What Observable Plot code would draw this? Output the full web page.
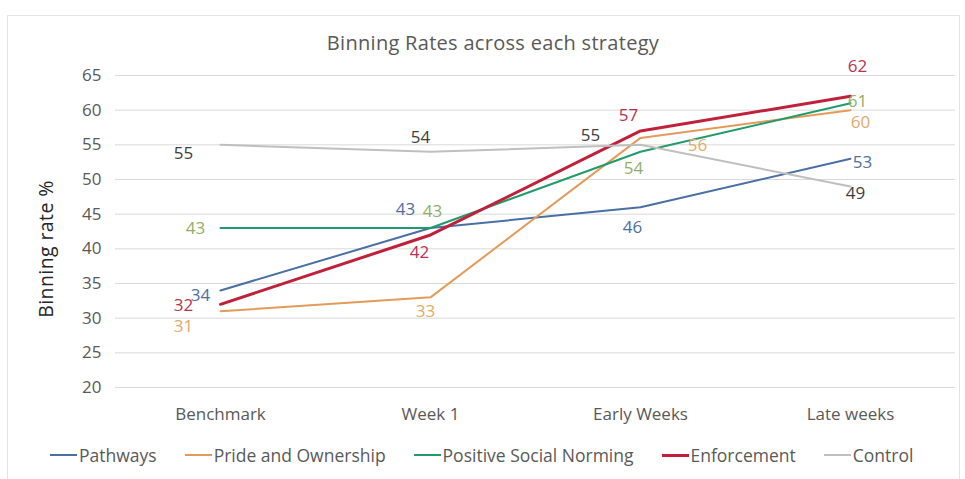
<!DOCTYPE html>
<html>
<head>
<meta charset="utf-8">
<script src="https://cdn.jsdelivr.net/npm/d3@7"></script>
<script src="https://cdn.jsdelivr.net/npm/@observablehq/plot@0.6"></script>
<style>
  body { margin: 0; background: #fff; font-family: "Open Sans", sans-serif; }
  #frame { position: absolute; left: 7px; top: 15px; width: 953px; height: 480px; border: 1px solid #e3e3e3; box-sizing: border-box; }
  #title { position: absolute; left: 0; width: 986px; top: 29px; text-align: center; font-size: 20px; letter-spacing: 0.3px; color: #595959; }
  #chart { position: absolute; left: 0; top: 0; }
  #legend { position: absolute; left: 50px; top: 443px; display: flex; gap: 28px; font-size: 17.5px; color: #595959; white-space: nowrap; }
  .item { display: flex; align-items: center; }
  .sw { width: 27px; margin-right: 2px; }
</style>
</head>
<body>
<div id="frame"></div>
<div id="title">Binning Rates across each strategy</div>
<div id="chart"></div>
<div id="legend"></div>
<script>
const categories = ["Benchmark", "Week 1", "Early Weeks", "Late weeks"];
const seriesNames = ["Pathways", "Pride and Ownership", "Positive Social Norming", "Enforcement", "Control"];
const pathways = [34, 43, 46, 53];
const prideOwnership = [31, 33, 56, 60];
const socialNorming = [43, 43, 54, 61];
const enforcement = [32, 42, 57, 62];
const control = [55, 54, 55, 49];
const yTicks = [20, 25, 30, 35, 40, 45, 50, 55, 60, 65];

// styling
const lineColors = ["#4a6fa5", "#e49b5a", "#1f9c6a", "#c0203a", "#bfbfbf"];
const labelColors = ["#4f6fa0", "#e2aa6c", "#8fae68", "#b8324f", "#404040"];
const lineWidths = [2, 2, 2, 3, 2];
// label placement (pixel offset of label centre from its point)
const labelOffsets = [
  [[-20, 5], [-25, -18], [-8, 20], [12, 4]],
  [[-37, 15], [-5, 14], [57, 8], [10, 12]],
  [[-25, 1], [2, -16], [-7, 17], [7, -2]],
  [[-37, 1], [-11, 18], [-12, -15], [7, -30]],
  [[-37, 9], [-10, -14], [-50, -9], [5, 7]]
];

const allValues = [pathways, prideOwnership, socialNorming, enforcement, control];
const rows = [];
seriesNames.forEach((s, si) => categories.forEach((c, ci) => rows.push({series: s, si, cat: c, ci, value: allValues[si][ci]})));

const lineMarks = seriesNames.map((s, si) => Plot.line(rows.filter(d => d.si === si), {
  x: "cat", y: "value", stroke: lineColors[si], strokeWidth: lineWidths[si], curve: "linear"
}));

// group labels by offset
const groups = d3.group(rows, d => labelOffsets[d.si][d.ci].join(","));
const textMarks = [];
for (const [key, grp] of groups) {
  const [dx, dy] = key.split(",").map(Number);
  textMarks.push(Plot.text(grp, {
    x: "cat", y: "value", text: d => String(d.value), dx, dy,
    fill: d => labelColors[d.si], fontSize: 17, textAnchor: "middle"
  }));
}

const plot = Plot.plot({
  width: 965, height: 430,
  marginLeft: 115, marginRight: 10, marginTop: 75, marginBottom: 43,
  style: { fontFamily: "Open Sans, sans-serif", fontSize: "17px", color: "#595959", background: "transparent" },
  x: { type: "point", domain: categories, padding: 0.5, label: null },
  y: { domain: [20, 65], ticks: yTicks, label: null },
  marks: [
    Plot.gridY(yTicks, { stroke: "#d9d9d9", strokeOpacity: 1, strokeWidth: 1 }),
    Plot.axisY(yTicks, { tickSize: 0, tickPadding: 14, fill: "#595959", fontSize: 17 }),
    Plot.axisX({ tickSize: 0, tickPadding: 20, fill: "#595959", fontSize: 17 }),
    ...lineMarks,
    ...textMarks
  ]
});
document.getElementById("chart").appendChild(plot);

// y axis title
const svg = d3.select(plot);
svg.append("text").attr("transform", "translate(48,249) rotate(-90)").attr("text-anchor", "middle")
  .attr("dominant-baseline", "middle").style("font-size", "19.5px").style("letter-spacing", "0.4px").style("fill", "#262626").text("Binning rate %");

const legend = document.getElementById("legend");
seriesNames.forEach((s, si) => {
  const it = document.createElement("div"); it.className = "item";
  const sw = document.createElement("div"); sw.className = "sw";
  sw.style.height = lineWidths[si] + "px"; sw.style.background = lineColors[si];
  const tx = document.createElement("span"); tx.textContent = s;
  it.appendChild(sw); it.appendChild(tx); legend.appendChild(it);
});
</script>
</body>
</html>
